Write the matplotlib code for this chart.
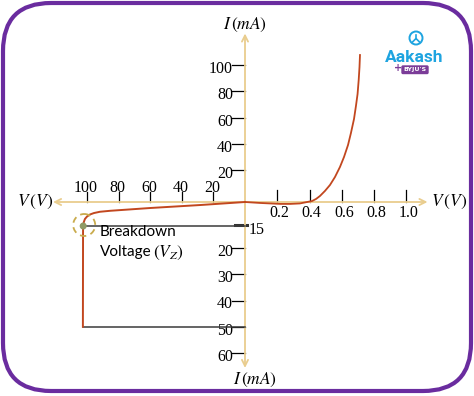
"""
Zener diode I-V characteristic (forward + reverse breakdown) diagram.
"""

import numpy as np
import matplotlib.pyplot as plt
from matplotlib.patches import FancyBboxPatch, Circle

plt.rcParams['mathtext.fontset'] = 'stix'

# Tick values
fwd_ticks = [0.2, 0.4, 0.6, 0.8, 1.0]          # forward voltage (V)
rev_ticks = [100, 80, 60, 40, 20]              # reverse voltage (V)
pos_i_ticks = [100, 80, 60, 40, 20]            # forward current (mA)
neg_i_ticks = [20, 30, 40, 50, 60]             # reverse current (mA)

# Forward characteristic (V, mA)
fwd_v = [0, 0.093, 0.22, 0.28, 0.34, 0.37, 0.415, 0.44, 0.464, 0.495,
         0.526, 0.557, 0.588, 0.613, 0.638, 0.656, 0.675, 0.687, 0.697,
         0.704, 0.709, 0.712]
fwd_i = [0, -0.6, -1.2, -1.2, -0.9, -0.3, 0.6, 1.9, 3.75, 6.9,
         10.6, 15.6, 22.3, 29.9, 39.1, 48.2, 58.9, 68.8, 77.9,
         88.6, 98.5, 107.6]

# Reverse characteristic (magnitudes: V, mA)
rev_v = [0, 28.5, 60, 85.4, 91.8, 95.6, 98.1, 100.0, 101.3, 102.0,
         102.4, 102.5, 102.6]
rev_i = [0, 1.9, 3.75, 5.5, 6.1, 6.9, 7.8, 9.1, 10.6, 12.5,
         14.4, 16.0, 50]

breakdown_v = 102.4
breakdown_i = 15
zener_i = 50

# Axis extents (data units)
fwd_v_max, rev_v_max = 1.13, 121.5
pos_i_max, neg_i_max = 124, 65.7

ORIGIN_X, ORIGIN_Y = 245, 202
AXIS_COLOR = '#e9cd8e'
CURVE_COLOR = '#c2471f'
SERIF = 'Liberation Serif'
SANS = 'Lato'


def piecewise(vals, xp, fp):
    """Piecewise-linear scale, extended past the last break."""
    vals = np.asarray(vals, float)
    out = np.interp(vals, xp, fp)
    slope = (fp[-1] - fp[-2]) / (xp[-1] - xp[-2])
    return np.where(vals > xp[-1], fp[-1] + slope * (vals - xp[-1]), out)


def fx(v):
    return ORIGIN_X + 161.5 * np.asarray(v, float)


def rx(v):
    return ORIGIN_X - 1.58 * np.asarray(v, float)


def up(i):
    return piecewise(i, [0, 20, 100], [ORIGIN_Y, 170, 65])


def down(i):
    return piecewise(i, [0, 15, 20, 60], [ORIGIN_Y, 226, 248, 353])


def iy(i):
    i = np.asarray(i, float)
    return np.where(i >= 0, up(np.abs(i)), down(np.abs(i)))


fig = plt.figure(figsize=(4.74, 3.96), dpi=100)
ax = fig.add_axes([0, 0, 1, 1])
ax.set_xlim(0, 474)
ax.set_ylim(396, 0)
ax.axis('off')

# Purple rounded frame
frame = FancyBboxPatch((3, 3), 468, 388, boxstyle='round,pad=0,rounding_size=48',
                       fill=False, edgecolor='#6a2c9f', lw=3)
ax.add_patch(frame)

# Axes with arrows
arrow = dict(arrowstyle='<->', color=AXIS_COLOR, lw=1.3, shrinkA=0, shrinkB=0,
             mutation_scale=11)
ax.annotate('', xy=(fx(fwd_v_max), ORIGIN_Y), xytext=(rx(rev_v_max), ORIGIN_Y),
            arrowprops=arrow)
ax.annotate('', xy=(ORIGIN_X, up(pos_i_max)), xytext=(ORIGIN_X, down(neg_i_max)),
            arrowprops=arrow)

# Ticks and labels - forward voltage
for v in fwd_ticks:
    x = float(fx(v))
    ax.plot([x, x], [ORIGIN_Y - 12, ORIGIN_Y], color='black', lw=0.9)
    ax.text(x + 2, ORIGIN_Y + 11, f'{v:.1f}', ha='center', va='center',
            family=SERIF, fontsize=11.5)

# reverse voltage
for v in rev_ticks:
    x = float(rx(v))
    ax.text(x - 1, ORIGIN_Y - 14, str(v), ha='center', va='center',
            family=SERIF, fontsize=11.5)
    ax.plot([x, x], [ORIGIN_Y - 10, ORIGIN_Y], color='black', lw=0.9)

# forward current
for i in pos_i_ticks:
    y = float(up(i))
    ax.plot([ORIGIN_X - 13, ORIGIN_X], [y, y], color='black', lw=0.9)
    ax.text(ORIGIN_X - 12, y + 4, str(i), ha='right', va='center',
            family=SERIF, fontsize=11.5)

# reverse current
for i in neg_i_ticks:
    y = float(down(i))
    ax.plot([ORIGIN_X - 13, ORIGIN_X], [y, y], color='black', lw=0.9)
    ax.text(ORIGIN_X - 12, y + 4, str(i), ha='right', va='center',
            family=SERIF, fontsize=11.5)

# Characteristic curves
ax.plot(fx(fwd_v), iy(fwd_i), color=CURVE_COLOR, lw=1.3, zorder=4)
ax.plot(rx(rev_v), down(rev_i), color=CURVE_COLOR, lw=1.4, zorder=4)

# Breakdown and zener current guide lines
y15 = float(down(breakdown_i))
y50 = float(down(zener_i))
ax.plot([rx(breakdown_v), ORIGIN_X], [y15, y15], color='#3a3a3a', lw=1.1, zorder=3)
ax.plot([ORIGIN_X - 10, ORIGIN_X + 2], [y15 - 1, y15 - 1], color='#333333', lw=2.2)
ax.plot([rx(breakdown_v), ORIGIN_X], [y50, y50], color='#3a3a3a', lw=1.1, zorder=3)
ax.text(ORIGIN_X + 4, y15 + 4, '15', ha='left', va='center', family=SERIF,
        fontsize=11.5)

# Breakdown marker
bx = float(rx(breakdown_v))
ax.add_patch(Circle((bx + 1, y15 - 1), 11, fill=False, ls=(0, (3.5, 2.5)),
                    edgecolor='#c9ab4c', lw=1.3, zorder=5))
ax.add_patch(Circle((bx, y15), 2.8, color='#8f9a66', zorder=6))

ax.text(100, 232, 'Breakdown', ha='left', va='center', family=SANS, fontsize=11)
ax.text(100, 252, 'Voltage', ha='left', va='center', family=SANS, fontsize=11)
ax.text(153, 253, '$(V_Z)$', ha='left', va='center', fontsize=12.5)

# Axis titles
ax.text(ORIGIN_X, 25, r'$I\,(mA)$', ha='center', va='center', fontsize=12.5)
ax.text(255, 380, r'$I\,(mA)$', ha='center', va='center', fontsize=12.5)
ax.text(35, ORIGIN_Y, r'$V\,(V)$', ha='center', va='center', fontsize=12.5)
ax.text(449, ORIGIN_Y, r'$V\,(V)$', ha='center', va='center', fontsize=12.5)

# Logo
ax.add_patch(Circle((416, 38), 6.5, fill=False, edgecolor='#1ea4e0', lw=1.4))
ax.plot([416, 416], [34.5, 38.5], color='#1ea4e0', lw=1.2)
ax.plot([412.5, 416, 419.5], [42, 38.5, 42], color='#1ea4e0', lw=1.2)
ax.text(414, 57, 'Aakash', ha='center', va='center', family='Roboto',
        weight='bold', fontsize=12.5, color='#1ea4e0')
ax.add_patch(FancyBboxPatch((402, 66), 26, 7.5, boxstyle='round,pad=0,rounding_size=1',
                            color='#7b3c98'))
ax.text(415, 69.8, "BYJU'S", ha='center', va='center', family='DejaVu Sans',
        weight='bold', fontsize=4.5, color='white')
ax.text(398, 68, '+', ha='center', va='center', fontsize=7, color='#7b3c98',
        weight='bold')

fig.savefig('out.png', dpi=100)
